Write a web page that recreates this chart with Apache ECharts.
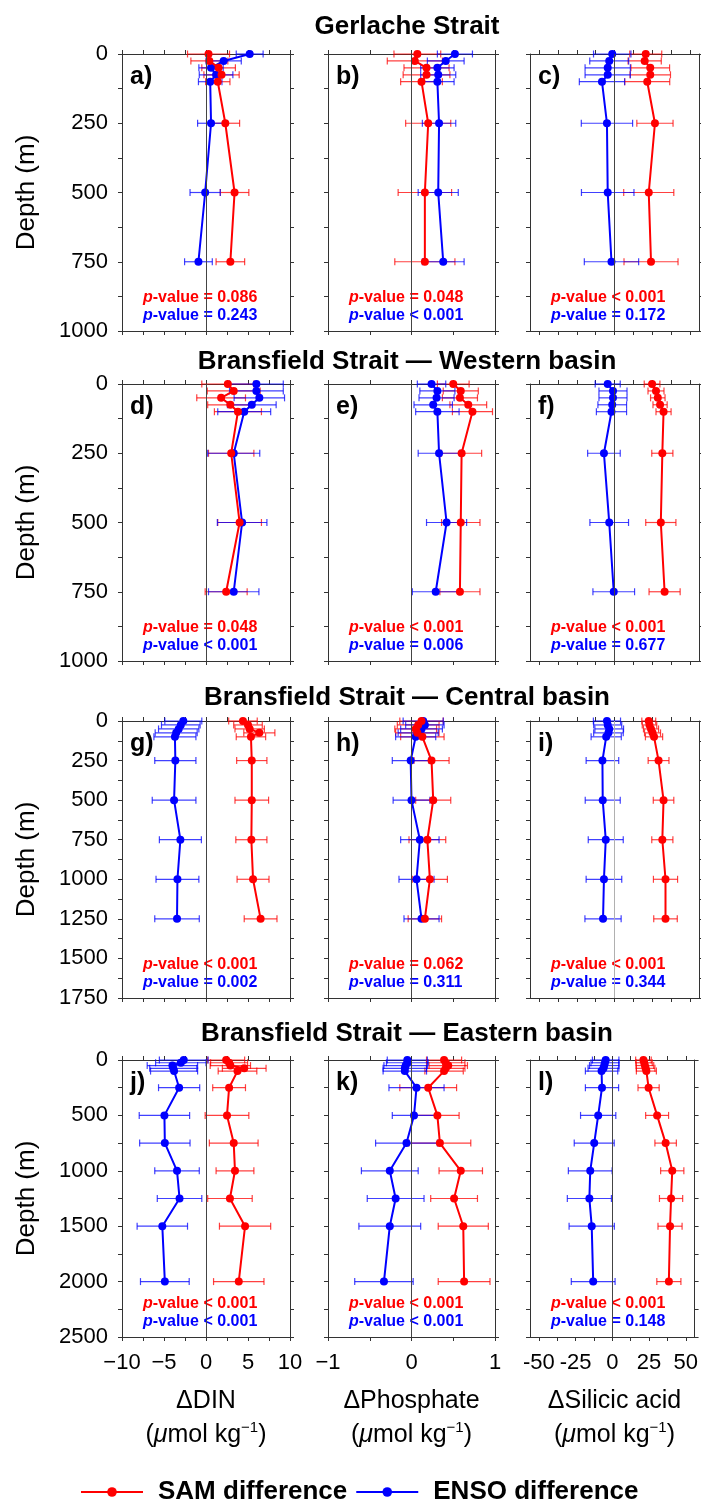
<!DOCTYPE html>
<html><head><meta charset="utf-8">
<script src="https://cdn.jsdelivr.net/npm/echarts@6/dist/echarts.min.js"></script>
<style>html,body{margin:0;padding:0;background:#fff}#c{width:701px;height:1500px}</style>
</head><body><div id="c"></div><script>
const FONT = "'Liberation Sans', Arial, sans-serif";
const RED = '#ff0000', BLUE = '#0000ff';

// ---- depth levels (m)
const depthsWest = [0,25,50,75,100,250,500,750];
const depthsCentral = [0,25,50,75,100,250,500,750,1000,1250];
const depthsEast = [0,25,50,75,100,250,500,750,1000,1250,1500,2000];

// ---- Gerlache Strait
const aSAM = [0.3,0.4,1.5,1.85,1.4,2.3,3.4,2.9];
const aSAMerr = [2.5,2.2,2.0,2.1,1.45,1.7,1.7,1.7];
const aENSO = [5.2,2.1,0.6,1.2,0.5,0.6,-0.1,-0.9];
const aENSOerr = [1.6,2.1,1.45,2.0,1.4,1.6,1.8,1.65];
const bSAM = [0.07,0.04,0.18,0.18,0.12,0.2,0.16,0.16];
const bSAMerr = [0.28,0.33,0.27,0.28,0.25,0.27,0.32,0.36];
const bENSO = [0.52,0.41,0.31,0.32,0.31,0.33,0.32,0.38];
const bENSOerr = [0.21,0.22,0.2,0.21,0.2,0.2,0.24,0.25];
const cSAM = [20.7,20,23.7,23.7,21.7,26.8,22.7,24.2];
const cSAMerr = [10.6,11,12.8,13.4,14.9,12,16.6,17.9];
const cENSO = [-1.5,-3.5,-4.5,-4.5,-8.3,-5,-4.5,-2];
const cENSOerr = [12.4,12.9,15,15,15,17,17.4,18];
// ---- Bransfield Western basin
const dSAM = [2.6,3.3,1.8,2.9,3.8,3.0,4.0,2.4];
const dSAMerr = [3.1,3.15,2.9,2.7,2.8,2.7,2.6,2.5];
const dENSO = [6.0,6.0,6.35,5.45,4.55,3.3,4.3,3.3];
const dENSOerr = [3.2,3.2,3.0,2.9,3.15,3.1,2.95,3.0];
const eSAM = [0.5,0.59,0.58,0.68,0.73,0.6,0.59,0.58];
const eSAMerr = [0.19,0.21,0.21,0.22,0.24,0.24,0.23,0.24];
const eENSO = [0.24,0.31,0.3,0.26,0.31,0.33,0.42,0.29];
const eENSOerr = [0.17,0.21,0.21,0.23,0.26,0.25,0.24,0.28];
const fSAM = [24.9,27.5,28.7,30.2,32.5,31.7,30.7,33.2];
const fSAMerr = [5.2,5.3,4.8,4.7,5,7,10,10.3];
const fENSO = [-4.5,-1,-1,-1.5,-2,-7,-3.5,-0.5];
const fENSOerr = [8.3,9.3,9.3,9.5,10,10.8,12.8,13.8];
// ---- Bransfield Central basin
const gSAM = [4.4,5.0,5.2,6.35,5.35,5.45,5.45,5.4,5.6,6.5];
const gSAMerr = [1.7,1.7,1.75,1.85,1.75,1.8,2.0,1.85,1.9,1.95];
const gENSO = [-2.7,-3.0,-3.25,-3.55,-3.7,-3.65,-3.8,-3.05,-3.4,-3.45];
const gENSOerr = [2.2,2.3,2.4,2.5,2.5,2.45,2.6,2.5,2.55,2.65];
const hSAM = [0.12,0.08,0.05,0.07,0.13,0.24,0.26,0.19,0.22,0.16];
const hSAMerr = [0.26,0.25,0.25,0.26,0.26,0.21,0.21,0.22,0.21,0.2];
const hENSO = [0.14,0.16,0.12,0.08,0.05,-0.01,0.0,0.1,0.06,0.12];
const hENSOerr = [0.24,0.23,0.25,0.24,0.24,0.22,0.22,0.23,0.21,0.21];
const iSAM = [22.7,23.2,24.2,25.2,26.2,29.2,32.5,31.7,33.8,33.8];
const iSAMerr = [4.6,4.8,5,5.3,5.7,6.9,6.8,7,8,7.8];
const iENSO = [-5,-4.5,-3.5,-4,-5.5,-8,-7.8,-5.8,-7,-7.6];
const iENSOerr = [9,9.3,9.5,9.8,10,10.8,11.6,11.6,11.8,12];
// ---- Bransfield Eastern basin
const jSAM = [2.4,2.75,2.9,4.55,3.75,2.75,2.5,3.3,3.45,2.85,4.65,3.9];
const jSAMerr = [2.2,2.2,2.4,2.6,2.3,1.95,2.6,2.9,2.25,2.65,3.05,3.0];
const jENSO = [-2.65,-3.0,-4.0,-3.9,-3.8,-3.2,-4.95,-4.9,-3.45,-3.15,-5.2,-4.9];
const jENSOerr = [2.9,3.0,3.0,2.8,2.8,2.45,3.0,3.0,2.65,2.65,3.0,2.9];
const kSAM = [0.39,0.41,0.44,0.41,0.39,0.2,0.31,0.34,0.59,0.51,0.62,0.63];
const kSAMerr = [0.21,0.23,0.23,0.23,0.23,0.34,0.26,0.37,0.26,0.28,0.3,0.31];
const kENSO = [-0.05,-0.05,-0.07,-0.08,-0.08,0.06,0.03,-0.06,-0.26,-0.19,-0.26,-0.33];
const kENSOerr = [0.24,0.25,0.26,0.26,0.26,0.33,0.26,0.37,0.34,0.34,0.37,0.35];
const lSAM = [21.2,21.7,22.2,22.7,23.2,24.7,30.5,36.3,40.8,40,39.3,38.5];
const lSAMerr = [5.3,5.5,6,6.3,6.8,7.2,7.8,7.3,7.9,7.9,8.2,8.2];
const lENSO = [-4.5,-5,-5.5,-6,-7.3,-7,-9.6,-12.3,-15,-15.6,-14,-13];
const lENSOerr = [9,9.5,10,10.5,11,11.3,12,13.6,14.9,15,15.4,14.9];

// ---- text
const rowTitles = ['Gerlache Strait','Bransfield Strait \u2014 Western basin','Bransfield Strait \u2014 Central basin','Bransfield Strait \u2014 Eastern basin'];
const panelLetters = ['a)','b)','c)','d)','e)','f)','g)','h)','i)','j)','k)','l)'];
const pSAM = ['= 0.086','= 0.048','< 0.001','= 0.048','< 0.001','< 0.001','< 0.001','= 0.062','< 0.001','< 0.001','< 0.001','< 0.001'];
const pENSO = ['= 0.243','< 0.001','= 0.172','< 0.001','= 0.006','= 0.677','= 0.002','= 0.311','= 0.344','< 0.001','< 0.001','= 0.148'];
const varNames = ['\u0394DIN','\u0394Phosphate','\u0394Silicic acid'];

// ---- axes ticks / labels
const xRange = [[-10,10],[-1,1],[-56,56]];
const xTicks = [[-10,-7.5,-5,-2.5,0,2.5,5,7.5,10],[-1,-0.5,0,0.5,1],[-50,-37.5,-25,-12.5,0,12.5,25,37.5,50]];
const xLabels = [[-10,-5,0,5,10],[-1,0,1],[-50,-25,0,25,50]];
const depthMax = [1000,1000,1750,2500];
const yLabelsRow = [[0,250,500,750,1000],[0,250,500,750,1000],[0,250,500,750,1000,1250,1500,1750],[0,500,1000,1500,2000,2500]];
const yTicksRow = [
  [0,125,250,375,500,625,750,875,1000],
  [0,125,250,375,500,625,750,875,1000],
  [0,125,250,375,500,625,750,875,1000,1125,1250,1375,1500,1625,1750],
  [0,250,500,750,1000,1250,1500,1750,2000,2250,2500]];

const panels = [
  [depthsWest,aSAM,aSAMerr,aENSO,aENSOerr],[depthsWest,bSAM,bSAMerr,bENSO,bENSOerr],[depthsWest,cSAM,cSAMerr,cENSO,cENSOerr],
  [depthsWest,dSAM,dSAMerr,dENSO,dENSOerr],[depthsWest,eSAM,eSAMerr,eENSO,eENSOerr],[depthsWest,fSAM,fSAMerr,fENSO,fENSOerr],
  [depthsCentral,gSAM,gSAMerr,gENSO,gENSOerr],[depthsCentral,hSAM,hSAMerr,hENSO,hENSOerr],[depthsCentral,iSAM,iSAMerr,iENSO,iENSOerr],
  [depthsEast,jSAM,jSAMerr,jENSO,jENSOerr],[depthsEast,kSAM,kSAMerr,kENSO,kENSOerr],[depthsEast,lSAM,lSAMerr,lENSO,lENSOerr]
];

// ---- layout
const colLeft = [122, 328, 530];
const colW = [168, 167, 169];
const rowTop = [54, 384, 721, 1060];
const PH = 277;
const AX = '#333';

function fmt(v){ return v < 0 ? '\u2212' + Math.abs(v) : String(v); }
function fmtNarrow(v){ return v < 0 ? '-' + Math.abs(v) : String(v); }

function errRender(color){
  return function(params, api){
    const x = api.value(0), d = api.value(1), e = api.value(2);
    const p1 = api.coord([x - e, d]), p2 = api.coord([x + e, d]);
    const h = 3.5;
    const st = {stroke: color, lineWidth: 1.2, opacity: 0.75};
    return {type:'group', children:[
      {type:'line', shape:{x1:p1[0],y1:p1[1],x2:p2[0],y2:p2[1]}, style:st},
      {type:'line', shape:{x1:p1[0],y1:p1[1]-h,x2:p1[0],y2:p1[1]+h}, style:st},
      {type:'line', shape:{x1:p2[0],y1:p2[1]-h,x2:p2[0],y2:p2[1]+h}, style:st}
    ]};
  };
}

const grid = [], xAxis = [], yAxis = [], series = [], graphic = [];
const tickBase = {show:true, inside:false, length:4, lineStyle:{color:AX, width:1}};
const lineBase = {show:true, onZero:false, lineStyle:{color:AX, width:1}};

panels.forEach((p, idx) => {
  const r = Math.floor(idx / 3), c = idx % 3;
  grid.push({left: colLeft[c], top: rowTop[r], width: colW[c], height: PH, containLabel:false});
  const xa = {type:'value', gridIndex: idx, min: xRange[c][0], max: xRange[c][1], splitLine:{show:false},
    axisLine: lineBase, axisTick: Object.assign({customValues: xTicks[c]}, tickBase)};
  xAxis.push(Object.assign({}, xa, {position:'bottom',
    axisLabel: {show: r === 3, customValues: xLabels[c], formatter: c === 2 ? fmtNarrow : fmt, fontSize: 22, color:'#000', fontFamily: FONT, margin: 15,
      hideOverlap: false, showMinLabel: true, showMaxLabel: true}}));
  xAxis.push(Object.assign({}, xa, {position:'top', axisLabel:{show:false}}));
  const ya = {type:'value', gridIndex: idx, inverse: true, min: 0, max: depthMax[r], splitLine:{show:false},
    axisLine: lineBase, axisTick: Object.assign({customValues: yTicksRow[r]}, tickBase)};
  yAxis.push(Object.assign({}, ya, {position:'left',
    axisLabel: {show: c === 0, customValues: yLabelsRow[r], formatter: v => String(v), fontSize: 22, color:'#000', fontFamily: FONT, margin: 14,
      hideOverlap: false, showMinLabel: true, showMaxLabel: true}}));
  yAxis.push(Object.assign({}, ya, {position:'right', axisLabel:{show:false}}));
  const xi = idx * 2, yi = idx * 2;
  const [dep, sam, samE, enso, ensoE] = p;
  series.push({type:'custom', name:'SAM err', xAxisIndex:xi, yAxisIndex:yi, renderItem: errRender(RED),
    data: dep.map((d,k) => [sam[k], d, samE[k]]), encode:{x:0, y:1}, z:1, silent:true});
  series.push({type:'custom', name:'ENSO err', xAxisIndex:xi, yAxisIndex:yi, renderItem: errRender(BLUE),
    data: dep.map((d,k) => [enso[k], d, ensoE[k]]), encode:{x:0, y:1}, z:1, silent:true});
  series.push({type:'line', name:'ENSO difference', xAxisIndex:xi, yAxisIndex:yi, color: BLUE,
    data: dep.map((d,k) => [enso[k], d]), symbol:'circle', symbolSize: 8, showSymbol: true,
    lineStyle:{width:2, color:BLUE}, itemStyle:{color:BLUE}, z:3,
    markLine:{silent:true, symbol:'none', label:{show:false}, animation:false,
      lineStyle:{color: idx === 8 ? '#b0b0b0' : '#444', width:1, type:'solid'}, data:[{xAxis:0}]}});
  series.push({type:'line', name:'SAM difference', xAxisIndex:xi, yAxisIndex:yi, color: RED,
    data: dep.map((d,k) => [sam[k], d]), symbol:'circle', symbolSize: 8, showSymbol: true,
    lineStyle:{width:2, color:RED}, itemStyle:{color:RED}, z:4});

  // panel letter
  graphic.push({type:'text', x: colLeft[c] + 8, y: rowTop[r] + 23, style:{text: panelLetters[idx], fontSize: 25, fontWeight:'bold',
    fontFamily: FONT, fill:'#000', verticalAlign:'middle', align:'left'}});
  // p-values
  const px = colLeft[c] + 21, bottom = rowTop[r] + PH;
  const mk = (txt, col, y) => ({type:'text', x: px, y: y, style:{text:'{i|p}{b|-value ' + txt + '}', verticalAlign:'middle', align:'left',
    rich:{i:{fontStyle:'italic', fontWeight:'bold', fontSize:16, fontFamily:FONT, fill:col},
          b:{fontWeight:'bold', fontSize:16, fontFamily:FONT, fill:col}}}});
  graphic.push(mk(pSAM[idx], RED, bottom - 33));
  graphic.push(mk(pENSO[idx], BLUE, bottom - 15));
});

// row titles and depth labels
rowTitles.forEach((t, r) => {
  const ty = [27, 362, 698, 1034][r];
  graphic.push({type:'text', x: 407, y: ty, style:{text: t, fontSize: 26, fontWeight:'bold', fontFamily: FONT, fill:'#000', align:'center', verticalAlign:'middle'}});
  graphic.push({type:'text', x: 27, y: rowTop[r] + PH/2, rotation: Math.PI/2, style:{text:'Depth (m)', fontSize: 26, fontFamily: FONT, fill:'#000', align:'center', verticalAlign:'middle'}});
});
// axis names
varNames.forEach((n, c) => {
  const cx = colLeft[c] + colW[c]/2;
  graphic.push({type:'text', x: cx, y: 1401, style:{text: n, fontSize: 25, fontFamily: FONT, fill:'#000', align:'center', verticalAlign:'middle'}});
  graphic.push({type:'text', x: cx, y: 1435, style:{text:'{a|(}{m|\u03bc}{a|mol kg}{s|\u22121}{a|)}', align:'center', verticalAlign:'middle',
    rich:{a:{fontSize:25, fontFamily:FONT, fill:'#000', lineHeight:30},
          m:{fontSize:25, fontFamily:FONT, fontStyle:'italic', fill:'#000', lineHeight:30},
          s:{fontSize:15, fontFamily:FONT, fill:'#000', verticalAlign:'top', lineHeight:30}}}});
});

const chart = echarts.init(document.getElementById('c'), null, {renderer:'canvas'});
chart.setOption({
  animation: false,
  textStyle: {fontFamily: FONT},
  grid, xAxis, yAxis, series, graphic,
  legend: {data:['SAM difference','ENSO difference'], left: 75, top: 1474, itemWidth: 62, itemHeight: 12, itemGap: 8,
    textStyle:{fontSize: 26, fontWeight:'bold', color:'#000', fontFamily: FONT, padding:[0,0,0,10]}, selectedMode:false}
});
</script></body></html>
